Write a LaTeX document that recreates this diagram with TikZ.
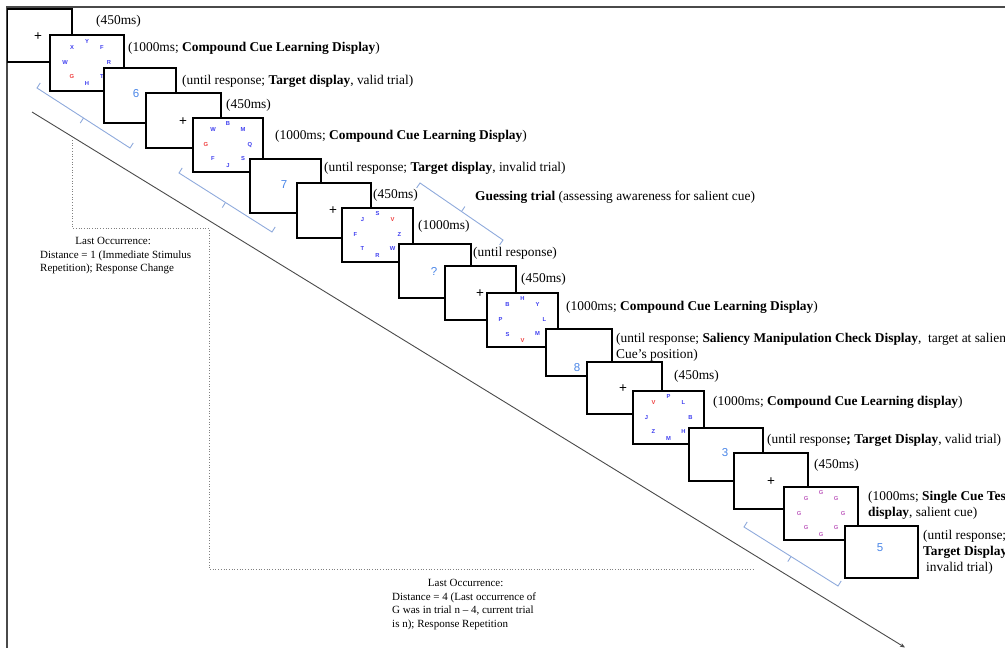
\documentclass[tikz,border=0pt]{standalone}
\usepackage{fontspec}
\setmainfont{Liberation Serif}
\newfontfamily\lsans{Liberation Sans}
\usetikzlibrary{calc,arrows.meta,fit}
\definecolor{lettblue}{HTML}{4040F0}
\definecolor{lettred}{HTML}{F04040}
\definecolor{digblue}{HTML}{4A86E8}
\definecolor{singlepink}{HTML}{C060C0}
\definecolor{brkblue}{HTML}{8FAADC}
\definecolor{framegray}{HTML}{4A4A4A}
\newcommand\rl[1]{\textcolor{lettred}{#1}}
\tikzset{
  screen/.style={draw=black, fill=white, line width=1.3pt, inner sep=0pt},
  lbl/.style={anchor=west, inner sep=0pt, font=\fontsize{13.4}{15.8}\selectfont},
  mlbl/.style={anchor=north west, inner sep=0pt, align=left, font=\fontsize{13.4}{15.8}\selectfont},
  note/.style={anchor=north west, inner sep=0pt, align=left, font=\fontsize{11}{13.6}\selectfont},
  fixmark/.style={inner sep=0pt, font=\lsans\fontsize{13.5}{13.5}\selectfont},
  digit/.style={inner sep=0pt, text=digblue, font=\lsans\fontsize{11.5}{12}\selectfont},
  cue/.style={inner sep=0pt, text=lettblue, font=\lsans\bfseries\fontsize{5.8}{6}\selectfont},
  brk/.style={draw=brkblue, line width=0.9pt},
  diag/.style={draw=framegray, line width=0.9pt},
  dotline/.style={draw=gray, line width=0.7pt, dotted},
}
\newcommand\scr[5]{\node[screen, fit={(#2,#3) (#4,#5)}] (#1) {};}
\newcommand\cues[9]{%
  \node[cue] (#1-1) at ($(#1.center)+(0,-21)$) {#2};
  \node[cue] (#1-2) at ($(#1.center)+(-15,-15)$) {#3};
  \node[cue] (#1-3) at ($(#1.center)+(15,-15)$) {#4};
  \node[cue] (#1-4) at ($(#1.center)+(-22,0)$) {#5};
  \node[cue] (#1-5) at ($(#1.center)+(22,0)$) {#6};
  \node[cue] (#1-6) at ($(#1.center)+(-15,14)$) {#7};
  \node[cue] (#1-7) at ($(#1.center)+(15,14)$) {#8};
  \node[cue] (#1-8) at ($(#1.center)+(0,21)$) {#9};}
% bracket: #1 start, #2 end, #3 hook angle at start, #4 hook angle at end, #5 tick angle
\newcommand\brkt[5]{%
  \coordinate (#1m) at ($(#1)!0.5!(#2)$);
  \draw[brk] ($(#1)!6pt!#3:(#2)$) -- (#1) -- (#2) -- ($(#2)!6pt!#4:(#1)$);
  \draw[brk] (#1m) -- ($(#1m)!6pt!#5:(#2)$);}
\begin{document}
\begin{tikzpicture}[x=1pt,y=-1pt]
\useasboundingbox (0,0) rectangle (1005,648);
\clip (0,0) rectangle (1005,648);
% frame
\coordinate (f1) at (6.5,648); \coordinate (f2) at (6.5,6.5); \coordinate (f3) at (1005,6.5);
\draw[framegray, line width=2pt] (f1) -- (f2) -- (f3);
% dotted guides
\coordinate (p1) at (72,140); \coordinate (p2) at (72,228); \coordinate (p3) at (209,228);
\coordinate (p4) at (209,569); \coordinate (p5) at (755,569);
\draw[dotline] (p1) -- (p2) -- (p3) -- (p4) -- (p5);
% long diagonal
\coordinate (d1) at (32,112); \coordinate (d2) at (905,647.5);
\draw[diag, -{Stealth[length=5pt,width=4pt]}] (d1) -- (d2);
% brackets
\coordinate (b1) at (37,88);   \coordinate (b1e) at (130,148);
\coordinate (b2) at (179,173); \coordinate (b2e) at (272,232);
\coordinate (b3) at (420,183); \coordinate (b3e) at (503,240);
\coordinate (b4) at (744,527); \coordinate (b4e) at (838,586);
\brkt{b1}{b1e}{90}{-90}{-90}
\brkt{b2}{b2e}{90}{-90}{-90}
\brkt{b3}{b3e}{-90}{90}{90}
\brkt{b4}{b4e}{90}{-90}{-90}
% screens
\scr{s1}{7.5}{9}{72}{62}
\node[fixmark] (s1-p) at (38,37) {+};
\scr{s2}{50}{35}{124}{91}
\cues{s2}{Y}{X}{F}{W}{R}{\rl{G}}{T}{H}
\scr{s3}{104}{68}{176}{123}
\node[digit] (s3-d) at (136,94) {6};
\scr{s4}{146}{93}{221}{148}
\node[fixmark] (s4-p) at (183,122) {+};
\scr{s5}{193}{118}{263}{172}
\cues{s5}{B}{W}{M}{\rl{G}}{Q}{F}{S}{J}
\scr{s6}{250}{159}{321}{213}
\node[digit] (s6-d) at (284,185) {7};
\scr{s7}{297}{183}{371}{238}
\node[fixmark] (s7-p) at (333,211) {+};
\scr{s8}{342}{208}{413}{262}
\cues{s8}{S}{J}{\rl{V}}{F}{Z}{T}{W}{R}
\scr{s9}{399}{244}{471}{298}
\node[digit] (s9-d) at (434,271) {?};
\scr{s10}{445}{266}{516}{320}
\node[fixmark] (s10-p) at (480,294) {+};
\scr{s11}{487}{293}{558}{347}
\cues{s11}{H}{B}{Y}{P}{L}{S}{M}{\rl{V}}
\scr{s12}{546}{329}{612}{376}
\node[digit] (s12-d) at (577,368) {8};
\scr{s13}{587}{362}{662}{414}
\node[fixmark] (s13-p) at (623,389) {+};
\scr{s14}{633}{391}{704}{444}
\cues{s14}{P}{\rl{V}}{L}{J}{B}{Z}{H}{M}
\scr{s15}{689}{428}{763}{481}
\node[digit] (s15-d) at (725,453) {3};
\scr{s16}{734}{453}{808}{509}
\node[fixmark] (s16-p) at (771,482) {+};
\scr{s17}{784}{487}{858}{540}
\begin{scope}[cue/.append style={text=singlepink}]
\cues{s17}{G}{G}{G}{G}{G}{G}{G}{G}
\end{scope}
\scr{s18}{845}{526}{918}{578}
\node[digit] (s18-d) at (880,548) {5};
% labels
\node[lbl] (l1) at (96,21) {(450ms)};
\node[lbl] (l2) at (128,48) {(1000ms; \textbf{Compound Cue Learning Display})};
\node[lbl] (l3) at (182,81) {(until response; \textbf{Target display}, valid trial)};
\node[lbl] (l4) at (226,105) {(450ms)};
\node[lbl] (l5) at (275,136) {(1000ms; \textbf{Compound Cue Learning Display})};
\node[lbl] (l6) at (324,168) {(until response; \textbf{Target display}, invalid trial)};
\node[lbl] (l7) at (373,195) {(450ms)};
\node[lbl] (l8) at (475,197) {\textbf{Guessing trial} (assessing awareness for salient cue)};
\node[lbl] (l9) at (418,226) {(1000ms)};
\node[lbl] (l10) at (473,253) {(until response)};
\node[lbl] (l11) at (521,279) {(450ms)};
\node[lbl] (l12) at (566,307) {(1000ms; \textbf{Compound Cue Learning Display})};
\node[mlbl] (l13) at (616,333) {(until response; \textbf{Saliency Manipulation Check Display},\ \ target at salient\\Cue’s position)};
\node[lbl] (l14) at (674,376) {(450ms)};
\node[lbl] (l15) at (713,402) {(1000ms; \textbf{Compound Cue Learning display})};
\node[lbl] (l16) at (767,440) {(until response\textbf{; Target Display}, valid trial)};
\node[lbl] (l17) at (814,465) {(450ms)};
\node[mlbl] (l18) at (868,491) {(1000ms; \textbf{Single Cue Test}\\\textbf{display}, salient cue)};
\node[mlbl] (l19) at (923,530) {(until response;\\\textbf{Target Display}\\\hspace{3pt}invalid trial)};
% notes
\node[note] (n1) at (40,237) {\makebox[146pt][c]{Last Occurrence:}\\Distance = 1 (Immediate Stimulus\\Repetition); Response Change};
\node[note] (n2) at (392,579) {\makebox[147pt][c]{Last Occurrence:}\\Distance = 4 (Last occurrence of\\G was in trial n – 4, current trial\\is n); Response Repetition};
\end{tikzpicture}
\end{document}
